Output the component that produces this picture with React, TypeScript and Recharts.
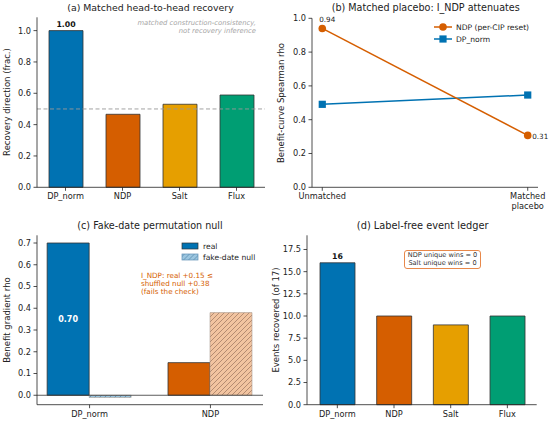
import React from "react";
import { BarChart, Bar, LineChart, Line, XAxis, YAxis, Cell, LabelList, ReferenceLine } from "recharts";

const FONT = "'DejaVu Sans', sans-serif";
const INK = "#222";
const BLUE = "#0072B2";
const VERM = "#D55E00";
const ORANGE = "#E69F00";
const GREEN = "#009E73";

// (a) matched head-to-head recovery
const methods = ["DP_norm", "NDP", "Salt", "Flux"];
const methodColors = [BLUE, VERM, ORANGE, GREEN];
const recoveryFrac = [1.0, 0.466, 0.53, 0.589];
const recoveryTicks = [0, 0.2, 0.4, 0.6, 0.8, 1.0];

// (b) matched placebo
const placeboConds = ["Unmatched", "Matched\nplacebo"];
const ndpRho = [0.94, 0.307];
const dpRho = [0.491, 0.546];
const rhoTicks = [0, 0.2, 0.4, 0.6, 0.8, 1.0];

// (c) fake-date permutation null
const permCats = ["DP_norm", "NDP"];
const realRho = [0.7, 0.15];
const nullRho = [-0.01, 0.38];
const realColors = [BLUE, VERM];
const nullFills = ["url(#hatchBlue)", "url(#hatchOrange)"];
const permTicks = [0, 0.1, 0.2, 0.3, 0.4, 0.5, 0.6, 0.7];

// (d) label-free event ledger
const eventsRecovered = [16, 10, 9, 10];
const eventTicks = [0, 2.5, 5, 7.5, 10, 12.5, 15, 17.5];

const dataA = methods.map((m, i) => ({ name: m, v: recoveryFrac[i] }));
const dataB = placeboConds.map((c, i) => ({ x: i, ndp: ndpRho[i], dp: dpRho[i] }));
const dataC = permCats.map((c, i) => ({ x: i, real: realRho[i], nul: nullRho[i] }));
const dataD = methods.map((m, i) => ({ name: m, v: eventsRecovered[i] }));

const tickStyle = { fontSize: 8.2, fill: INK, fontFamily: FONT };
const axis = {
  stroke: INK,
  axisLine: { stroke: INK, strokeWidth: 0.8 },
  tickLine: { stroke: INK, strokeWidth: 0.8 },
  tickSize: 3.5,
  tickMargin: 2.5,
  tick: tickStyle,
};
const f1 = (v: number) => v.toFixed(1);

function Txt({ x, y, size, children, anchor = "center", rotate = false, style = {} }: any) {
  const tx = anchor === "left" ? "0" : anchor === "right" ? "-100%" : "-50%";
  return (
    <div
      style={{
        position: "absolute", left: x, top: y, fontSize: size, whiteSpace: "pre", lineHeight: 1.18,
        transform: `translate(${tx},-50%)${rotate ? " rotate(-90deg)" : ""}`,
        transformOrigin: rotate ? "50% 50%" : undefined, textAlign: anchor === "right" ? "right" : "left",
        color: INK, ...style,
      }}
    >
      {children}
    </div>
  );
}

const maxLabel = (max: number, fmt: (v: number) => string) => (p: any) => {
  const { x, y, width, value } = p;
  if (value !== max) return null;
  return (
    <text x={x + width / 2} y={y - 6.5} textAnchor="middle" dominantBaseline="central" fontSize={7.8} fontWeight="bold" fontFamily={FONT} fill="#111">
      {fmt(value)}
    </text>
  );
};

const ndpLabel = (p: any) => {
  const { x, y, value } = p;
  const t = Number(value).toFixed(2);
  if (x < 100) return <text x={x + 5} y={y - 9} textAnchor="middle" dominantBaseline="central" fontSize={7.2} fontFamily={FONT} fill={INK}>{t}</text>;
  return <text x={x + 4.5} y={y + 1} textAnchor="start" dominantBaseline="central" fontSize={7.2} fontFamily={FONT} fill={INK}>{t}</text>;
};

const squareDot = (p: any) => (
  <rect key={`sq-${p.index}`} x={p.cx - 3.6} y={p.cy - 3.6} width={7.2} height={7.2} fill={BLUE} />
);

const PlaceboTick = (p: any) => {
  const lines = placeboConds[p.payload.value].split("\n");
  return (
    <text x={p.x} y={p.y} textAnchor="middle" fontSize={8.2} fontFamily={FONT} fill={INK}>
      {lines.map((l, i) => (
        <tspan key={i} x={p.x} dy={i === 0 ? "0.71em" : "1.25em"}>{l}</tspan>
      ))}
    </text>
  );
};

const insideLabel = (p: any) => {
  const { x, y, width, height, value } = p;
  if (value < 0.5) return null;
  return (
    <text x={x + width / 2} y={y + height / 2} textAnchor="middle" dominantBaseline="central" fontSize={8} fontWeight="bold" fontFamily={FONT} fill="#fff">
      {value.toFixed(2)}
    </text>
  );
};

function Swatch({ kind }: { kind: "line-circle" | "line-square" | "real" | "null" }) {
  return (
    <svg width={18} height={9} style={{ display: "block" }}>
      <defs>
        <pattern id="legHatch" patternUnits="userSpaceOnUse" width={5} height={5}>
          <rect width={5} height={5} fill="#9CC6E0" />
          <path d="M-1,1 l2,-2 M0,5 l5,-5 M4,6 l2,-2" stroke="#3f77a0" strokeWidth={0.6} />
        </pattern>
      </defs>
      {kind === "line-circle" && (<><line x1={0} y1={4.5} x2={18} y2={4.5} stroke={VERM} strokeWidth={1.5} /><circle cx={9} cy={4.5} r={3.8} fill={VERM} /></>)}
      {kind === "line-square" && (<><line x1={0} y1={4.5} x2={18} y2={4.5} stroke={BLUE} strokeWidth={1.5} /><rect x={5.4} y={0.9} width={7.2} height={7.2} fill={BLUE} /></>)}
      {kind === "real" && <rect x={1} y={1.5} width={16} height={6} fill={BLUE} stroke="#333" strokeWidth={0.7} />}
      {kind === "null" && <rect x={1} y={1.5} width={16} height={6} fill="url(#legHatch)" stroke="#5f8fb5" strokeWidth={0.7} />}
    </svg>
  );
}

function LegendRow({ x, y, kind, label }: any) {
  return (
    <div style={{ position: "absolute", left: x, top: y, transform: "translateY(-50%)", display: "flex", alignItems: "center", gap: 4, fontSize: 7.6, color: INK, whiteSpace: "nowrap" }}>
      <Swatch kind={kind} />
      <span>{label}</span>
    </div>
  );
}

export default function App() {
  return (
    <div style={{ position: "absolute", left: 0, top: 0, width: 550, height: 424, background: "#fff", fontFamily: FONT, overflow: "hidden" }}>
      {/* (a) */}
      <div style={{ position: "absolute", left: 0, top: 0 }}>
        <BarChart width={275} height={212} data={dataA} margin={{ top: 17.3, right: 10, bottom: 0, left: 7 }}>
          <XAxis dataKey="name" {...axis} height={24.7} interval={0} />
          <YAxis {...axis} width={30} domain={[0, 1.085]} ticks={recoveryTicks} tickFormatter={f1} />
          <ReferenceLine y={0.5} stroke="#999" strokeDasharray="4 2.5" strokeWidth={0.9} />
          <Bar dataKey="v" barSize={34} stroke="#333" strokeWidth={0.8} isAnimationActive={false}>
            {dataA.map((d, i) => <Cell key={d.name} fill={methodColors[i]} />)}
            <LabelList dataKey="v" content={maxLabel(1.0, (v) => v.toFixed(2))} />
          </Bar>
        </BarChart>
      </div>
      <Txt x={150.5} y={8.3} size={9.4}>(a) Matched head-to-head recovery</Txt>
      <Txt x={6.7} y={102} size={8.5} rotate>Recovery direction (frac.)</Txt>
      <Txt x={256} y={27} size={6.8} anchor="right" style={{ color: "#a6a6a6", fontStyle: "italic" }}>
        {"matched construction-consistency,\nnot recovery inference"}
      </Txt>

      {/* (b) */}
      <div style={{ position: "absolute", left: 275, top: 0 }}>
        <LineChart width={275} height={212} data={dataB} margin={{ top: 18.3, right: 12, bottom: 0, left: 7 }}>
          <XAxis dataKey="x" type="number" {...axis} height={24.7} domain={[-0.05, 1.05]} ticks={[0, 1]} tick={<PlaceboTick />} />
          <YAxis {...axis} width={30} domain={[0, 1]} ticks={rhoTicks} tickFormatter={f1} />
          <Line dataKey="dp" stroke={BLUE} strokeWidth={1.5} dot={squareDot} isAnimationActive={false} />
          <Line dataKey="ndp" stroke={VERM} strokeWidth={1.5} dot={{ r: 3.8, fill: VERM, stroke: VERM, strokeWidth: 0 }} isAnimationActive={false}>
            <LabelList dataKey="ndp" content={ndpLabel} />
          </Line>
        </LineChart>
      </div>
      <Txt x={425.7} y={8.3} size={9.6}>(b) Matched placebo: I_NDP attenuates</Txt>
      <Txt x={281} y={103} size={8.5} rotate>Benefit-curve Spearman rho</Txt>
      <LegendRow x={434} y={27.3} kind="line-circle" label="NDP (per-CIP reset)" />
      <LegendRow x={434} y={39} kind="line-square" label="DP_norm" />

      {/* (c) */}
      <div style={{ position: "absolute", left: 0, top: 212 }}>
        <BarChart width={275} height={212} data={dataC} margin={{ top: 23.3, right: 12, bottom: 0, left: 7 }} barGap={0}>
          <defs>
            <pattern id="hatchBlue" patternUnits="userSpaceOnUse" width={5} height={5}>
              <rect width={5} height={5} fill="#9CC6E0" />
              <path d="M-1,1 l2,-2 M0,5 l5,-5 M4,6 l2,-2" stroke="#3f77a0" strokeWidth={0.6} />
            </pattern>
            <pattern id="hatchOrange" patternUnits="userSpaceOnUse" width={5} height={5}>
              <rect width={5} height={5} fill="#F2C4A0" />
              <path d="M-1,1 l2,-2 M0,5 l5,-5 M4,6 l2,-2" stroke="#8a6450" strokeWidth={0.6} />
            </pattern>
          </defs>
          <XAxis dataKey="x" type="number" {...axis} height={19.3} domain={[-0.435, 1.435]} ticks={[0, 1]} tickFormatter={(v: number) => permCats[v]} />
          <YAxis {...axis} width={30} domain={[-0.0434, 0.7354]} ticks={permTicks} tickFormatter={f1} />
          <Bar dataKey="real" barSize={42} stroke="#333" strokeWidth={0.8} isAnimationActive={false}>
            {dataC.map((d, i) => <Cell key={`r${i}`} fill={realColors[i]} />)}
            <LabelList dataKey="real" content={insideLabel} />
          </Bar>
          <Bar dataKey="nul" barSize={42} stroke="#a89a90" strokeWidth={0.6} isAnimationActive={false}>
            {dataC.map((d, i) => <Cell key={`n${i}`} fill={nullFills[i]} />)}
          </Bar>
          <ReferenceLine y={0} stroke="#333" strokeWidth={0.8} />
        </BarChart>
      </div>
      <Txt x={150} y={226} size={9.6}>(c) Fake-date permutation null</Txt>
      <Txt x={7.3} y={320} size={8.5} rotate>Benefit gradient rho</Txt>
      <LegendRow x={181} y={245.5} kind="real" label="real" />
      <LegendRow x={181} y={256.5} kind="null" label="fake-date null" />
      <Txt x={141} y={284} size={7.2} anchor="left" style={{ color: VERM, lineHeight: "7.8px" }}>
        {"I_NDP: real +0.15 \u2264\nshuffled null +0.38\n(fails the check)"}
      </Txt>

      {/* (d) */}
      <div style={{ position: "absolute", left: 275, top: 212 }}>
        <BarChart width={275} height={212} data={dataD} margin={{ top: 23.3, right: 13.3, bottom: 0, left: 2 }}>
          <XAxis dataKey="name" {...axis} height={19.3} interval={0} padding={{ left: 2, right: 1 }} />
          <YAxis {...axis} width={30} domain={[0, 19.1]} ticks={eventTicks} tickFormatter={f1} />
          <Bar dataKey="v" barSize={35} stroke="#333" strokeWidth={0.8} isAnimationActive={false}>
            {dataD.map((d, i) => <Cell key={d.name} fill={methodColors[i]} />)}
            <LabelList dataKey="v" content={maxLabel(16, (v) => String(v))} />
          </Bar>
        </BarChart>
      </div>
      <Txt x={422.7} y={226} size={9.8}>(d) Label-free event ledger</Txt>
      <Txt x={276} y={320} size={8.5} rotate>Events recovered (of 17)</Txt>
      <div
        style={{
          position: "absolute", left: 404, top: 250, width: 77, height: 19, boxSizing: "border-box",
          border: "1px solid #E8884A", borderRadius: 3, background: "#fff", fontSize: 6.6, lineHeight: "7.6px",
          color: "#333", display: "flex", flexDirection: "column", justifyContent: "center", alignItems: "center",
        }}
      >
        <span>NDP unique wins = 0</span>
        <span>Salt unique wins = 0</span>
      </div>
    </div>
  );
}
